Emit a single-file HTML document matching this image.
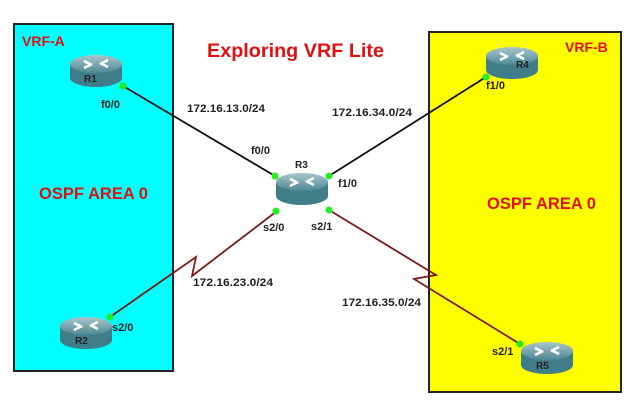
<!DOCTYPE html>
<html><head><style>
body{margin:0;background:#fff;width:640px;height:403px;overflow:hidden}
svg text{font-family:"Liberation Sans",sans-serif}
</style></head><body>
<svg width="640" height="403" viewBox="0 0 640 403">
<defs>
<linearGradient id="rt" x1="0" y1="0" x2="0" y2="1">
<stop offset="0" stop-color="#a9c6cc"/><stop offset="1" stop-color="#4d8893"/>
</linearGradient>
<g id="router">
<path d="M-26,-6 L-26,8 A26,9 0 0 0 26,8 L26,-6 Z" fill="#3f7e89"/>
<ellipse cx="0" cy="-6" rx="26" ry="9" fill="url(#rt)"/>
<path d="M-12,-9 L-4,-5 M12,-3 L4,-7 M-12,-2 L-4,-6 M12,-10 L4,-6" stroke="#fff" stroke-width="2.5"/>
</g>
</defs>
<rect x="14" y="24" width="159" height="347" fill="#00ffff" stroke="#222" stroke-width="2"/>
<rect x="429" y="32" width="192" height="360" fill="#ffff00" stroke="#222" stroke-width="2"/>
<g font-weight="bold" fill="#e01010">
<text x="22" y="46" font-size="14">VRF-A</text>
<text x="565" y="52" font-size="14">VRF-B</text>
<text x="207" y="57" font-size="19" textLength="177" lengthAdjust="spacingAndGlyphs">Exploring VRF Lite</text>
<text x="39" y="199" font-size="17" textLength="109" lengthAdjust="spacingAndGlyphs">OSPF AREA 0</text>
<text x="487" y="209" font-size="17" textLength="109" lengthAdjust="spacingAndGlyphs">OSPF AREA 0</text>
</g>
<g fill="none" stroke-width="1.8">
<line x1="123" y1="86" x2="275" y2="176" stroke="#111"/>
<line x1="329" y1="176" x2="486" y2="77" stroke="#111"/>
<polyline points="110,317 196,257 192,276 277,211" stroke="#7a1a1a"/>
<polyline points="329,210 436,275 414,279 520,344" stroke="#7a1a1a"/>
</g>
<use href="#router" x="96" y="70"/>
<use href="#router" x="302" y="188"/>
<use href="#router" x="512" y="62"/>
<use href="#router" x="86" y="332"/>
<use href="#router" x="547" y="357"/>
<g fill="#22ee22">
<circle cx="123" cy="86" r="3.5"/><circle cx="275" cy="176" r="3.5"/>
<circle cx="329" cy="176" r="3.5"/><circle cx="486" cy="77" r="3.5"/>
<circle cx="276" cy="211" r="3.5"/><circle cx="329" cy="210" r="3.5"/>
<circle cx="110" cy="317" r="3.5"/><circle cx="520" cy="344" r="3.5"/>
</g>
<g font-size="11" font-weight="bold" fill="#222">
<text x="84" y="82" font-size="10">R1</text>
<text x="295" y="168" font-size="10">R3</text>
<text x="516" y="68" font-size="10">R4</text>
<text x="75" y="344" font-size="10">R2</text>
<text x="536" y="369" font-size="10">R5</text>
<text x="101" y="108">f0/0</text>
<text x="251" y="154">f0/0</text>
<text x="338" y="187">f1/0</text>
<text x="486" y="89">f1/0</text>
<text x="263" y="231">s2/0</text>
<text x="311" y="230">s2/1</text>
<text x="112" y="331">s2/0</text>
<text x="492" y="355">s2/1</text>
<text x="187" y="112" textLength="78" lengthAdjust="spacingAndGlyphs">172.16.13.0/24</text>
<text x="332" y="116" textLength="80" lengthAdjust="spacingAndGlyphs">172.16.34.0/24</text>
<text x="193" y="286" textLength="80" lengthAdjust="spacingAndGlyphs">172.16.23.0/24</text>
<text x="342" y="306" textLength="79" lengthAdjust="spacingAndGlyphs">172.16.35.0/24</text>
</g>
</svg>
</body></html>
